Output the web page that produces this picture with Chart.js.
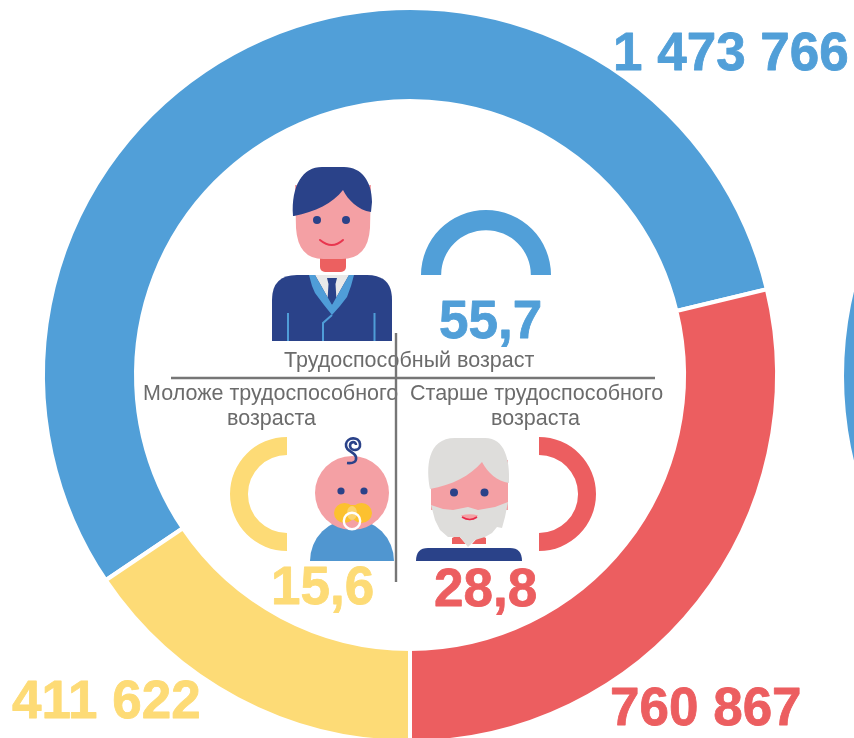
<!DOCTYPE html>
<html lang="ru">
<head>
<meta charset="utf-8">
<title>Возрастная структура населения</title>
<script src="https://cdn.jsdelivr.net/npm/chart.js@4"></script>
<style>
html,body{margin:0;padding:0;width:854px;height:738px;overflow:hidden;background:#fff}
canvas,svg{position:absolute;display:block}
</style>
</head>
<body>
<canvas id="ring" width="854" height="760" style="left:0;top:0"></canvas>
<canvas id="nextRing" width="730" height="730" style="left:844px;top:11px"></canvas>
<canvas id="gaugeWork" width="130" height="65" style="left:421px;top:210px"></canvas>
<canvas id="gaugeYoung" width="57" height="114" style="left:230px;top:437px"></canvas>
<canvas id="gaugeOld" width="57" height="114" style="left:539px;top:437px"></canvas>

<svg width="854" height="738" viewBox="0 0 854 738" style="left:0;top:0;filter:blur(.3px)">
  <!-- worker -->
  <rect x="320" y="250" width="26" height="22" rx="5" fill="#ec6060"/>
  <path d="M295,185 L371,185 L370,228 Q368,260 340,259 L325,259 Q298,260 296,228 Z" fill="#f4a0a4"/>
  <path d="M293,216 C291,185 303,167 322,167 L344,167 C362,167 372,182 372,202 L371,212 C358,210 348,200 343,190 C333,203 315,212 294,216 Z" fill="#2a4289"/>
  <circle cx="317" cy="220" r="4" fill="#2a4289"/><circle cx="346" cy="220" r="4" fill="#2a4289"/>
  <path d="M320,240 Q332,250 343,240" fill="none" stroke="#e8364f" stroke-width="2" stroke-linecap="round"/>
  <path d="M272,341 L272,300 Q272,275 297,275 L367,275 Q392,275 392,300 L392,341 Z" fill="#2a4289"/>
  <path d="M315,275 L349,275 L332,305 Z" fill="#e9e9e9"/>
  <path d="M327,278 L337,278 L335.5,284 L336.5,300 L332,305 L327.5,300 L328.5,284 Z" fill="#2a4289"/>
  <path d="M309,275 L315,275 L332,305 L349,275 L354,275 L351,286 L347,297 L340,306 L332,315 L324,305 L315,293 L312,286 Z" fill="#4f9dd8"/>
  <path d="M332,315 L323,323 L323,341 M288,313 L288,341 M374.5,313 L374.5,341" fill="none" stroke="#4f9dd8" stroke-width="2"/>
  <!-- infant -->
  <path d="M310,561 A42,42 0 0 1 394,561 Z" fill="#5096d0"/>
  <circle cx="352" cy="493" r="37" fill="#f4a0a4"/>
  <circle cx="341" cy="491" r="3.6" fill="#2a4289"/><circle cx="364" cy="491" r="3.6" fill="#2a4289"/>
  <path d="M347,463 Q357,464 356,457 C355,451 345,452 346,444 C347,437 359,436 360,444 C361,451 351,452 350,446 C350,441 356,441 356,445" fill="none" stroke="#2a4289" stroke-width="2.6"/>
  <ellipse cx="344.5" cy="513" rx="10.5" ry="10" fill="#fcc12f"/><ellipse cx="361.5" cy="513" rx="10.5" ry="10" fill="#fcc12f"/>
  <rect x="344" y="505" width="18" height="10" fill="#fcc12f"/>
  <ellipse cx="352" cy="513" rx="5" ry="7" fill="#fbd36f"/>
  <circle cx="352" cy="521" r="8.2" fill="none" stroke="#ffffff" stroke-width="2.4"/>
  <!-- elder -->
  <path d="M452,544 L452,538 L458,535 L466,544 Z M472,544 L480,535 L486,538 L486,544 Z" fill="#ec6060"/>
  <path d="M431,460 L508,460 L508,510 L431,510 Z" fill="#f4a0a4"/>
  <path d="M430,489 C426,468 427,438 455,438 L485,438 C505,438 510,460 509,483 C497,481 488,473 482,462 C470,476 452,485 430,489 Z" fill="#dedddb"/>
  <circle cx="454" cy="492.5" r="4" fill="#2a4289"/><circle cx="484.5" cy="492.5" r="4" fill="#2a4289"/>
  <path d="M431,505 L443,509 L453,510 L468,507 L478,510 L495,507 L508,502 L505,517 L502,528 L497,527 L492,533 L485,537 L475,540 L468,547 L460,537 L448,537 L440,530 L435,520 Z" fill="#dedddb"/>
  <path d="M461,515.5 Q470,513 478,515.5 Q470,525 461,515.5 Z" fill="#f4a0a4"/>
  <path d="M462,517 Q470,522 477,517" fill="none" stroke="#e8294a" stroke-width="1.6"/>
  <path d="M416,561 Q416,548 428,548 L510,548 Q522,548 522,561 Z" fill="#2a4289"/>
  <!-- dividers -->
  <path d="M171,378 L655,378 M396,333 L396,582" fill="none" stroke="#767676" stroke-width="2.4"/>
</svg>

<script>
const categories = ['Трудоспособный возраст', 'Старше трудоспособного возраста', 'Моложе трудоспособного возраста'];
const populationValues = [1473766, 760867, 411622];
const sharePercent = [55.7, 28.8, 15.6];
const sliceColors = ['#519fd8', '#ec5e60', '#fddb76'];
const nextRingValues = [1];

const formatCount = v => String(v).replace(/\B(?=(\d{3})+$)/g, ' ');
const formatShare = v => v.toFixed(1).replace('.', ',');

const BIG = 'bold 53px "Liberation Sans", Arial, sans-serif';
const SMALL = '21.5px "Liberation Sans", Arial, sans-serif';
const GREY = '#6b6b6b';

const textLayer = {
  id: 'textLayer',
  afterDraw(chart) {
    const c = chart.ctx;
    c.save();
    c.textAlign = 'left';
    c.textBaseline = 'alphabetic';
    const put = (t, x, y, font, color, weight) => {
      c.font = font; c.fillStyle = color; c.fillText(t, x, y);
      if (weight) { c.strokeStyle = color; c.lineWidth = weight; c.lineJoin = 'round'; c.strokeText(t, x, y); }
    };
    put(formatCount(populationValues[0]), 613, 70, BIG, sliceColors[0], 0.8);
    put(formatCount(populationValues[1]), 610, 725, BIG, sliceColors[1], 0.8);
    put(formatCount(populationValues[2]), 12, 718, BIG, sliceColors[2], 0.8);
    put(formatShare(sharePercent[0]), 439, 338, BIG, sliceColors[0], 0.8);
    put(formatShare(sharePercent[1]), 434, 606, BIG, sliceColors[1], 0.8);
    put(formatShare(sharePercent[2]), 271, 604, BIG, sliceColors[2], 0.8);
    put('Трудоспособный возраст', 284, 367, SMALL, GREY);
    put('Моложе трудоспособного', 143, 400, SMALL, GREY);
    put('возраста', 227, 425, SMALL, GREY);
    put('Старше трудоспособного', 410, 400, SMALL, GREY);
    put('возраста', 491, 425, SMALL, GREY);
    c.restore();
  }
};

const base = {
  responsive: false,
  animation: false,
  events: [],
  plugins: { legend: { display: false }, tooltip: { enabled: false }, title: { display: false } }
};

new Chart(document.getElementById('ring'), {
  type: 'doughnut',
  data: { labels: categories, datasets: [{ data: populationValues, backgroundColor: sliceColors, borderColor: '#ffffff', borderWidth: 4 }] },
  options: { ...base, rotation: -124, cutout: '74.66%', layout: { padding: { left: 41, right: 75, top: 6, bottom: 16 } } },
  plugins: [textLayer]
});

new Chart(document.getElementById('nextRing'), {
  type: 'doughnut',
  data: { labels: ['Следующая диаграмма'], datasets: [{ data: nextRingValues, backgroundColor: [sliceColors[0]], borderWidth: 0 }] },
  options: { ...base, cutout: '75%' }
});

function gauge(id, value, color, rotation, cutout) {
  new Chart(document.getElementById(id), {
    type: 'doughnut',
    data: { labels: [id], datasets: [{ data: [value], backgroundColor: [color], borderWidth: 0 }] },
    options: { ...base, rotation, circumference: 180, cutout }
  });
}
gauge('gaugeWork', sharePercent[0], sliceColors[0], -90, '69%');
gauge('gaugeYoung', sharePercent[2], sliceColors[2], 180, '68.5%');
gauge('gaugeOld', sharePercent[1], sliceColors[1], 0, '68.5%');
</script>
</body>
</html>
